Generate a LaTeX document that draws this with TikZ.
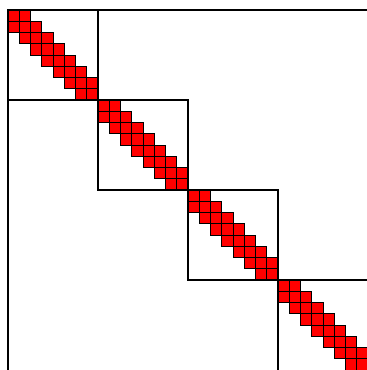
\documentclass[tikz,border=0pt]{standalone}
\begin{document}
\begin{tikzpicture}[x=1pt,y=-1pt]
\tikzset{cell/.style={fill=red,draw=black,line width=0.8pt},
         blockline/.style={draw=black,line width=1.8pt}}
\useasboundingbox (0,0) rectangle (367,370);
\clip (0,0) rectangle (367,370);
% tridiagonal cells in each block
\foreach \b in {0,...,3} {
  \foreach \i in {0,...,7} {
    \draw[cell] (8+90*\b+11.25*\i,10+90*\b+11.25*\i) rectangle +(11.25,11.25);
  }
  \foreach \i in {0,...,6} {
    \draw[cell] (8+90*\b+11.25*\i+11.25,10+90*\b+11.25*\i) rectangle +(11.25,11.25);
    \draw[cell] (8+90*\b+11.25*\i,10+90*\b+11.25*\i+11.25) rectangle +(11.25,11.25);
  }
}
% blocks (the last one runs off the page)
\foreach \b in {0,...,2} {
  \draw[blockline] (8+90*\b,10+90*\b) rectangle +(90,90);
}
\draw[blockline] (278,380) -- (278,280) -- (380,280);
% outer frame
\draw[blockline] (8,380) -- (8,10) -- (380,10);
\end{tikzpicture}
\end{document}
